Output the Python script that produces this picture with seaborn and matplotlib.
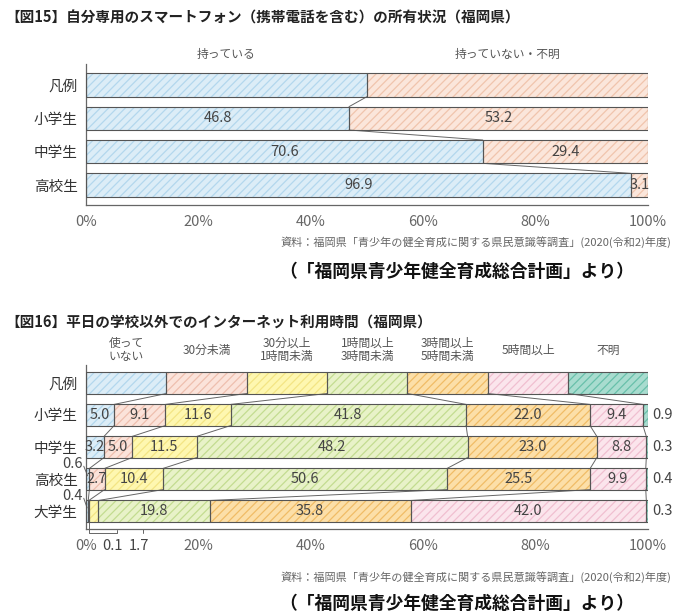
import numpy as np
import pandas as pd
import matplotlib.pyplot as plt
import seaborn as sns

sns.set_theme(style="white")
plt.rcParams['font.family'] = ['Noto Sans CJK JP', 'DejaVu Sans']
plt.rcParams['hatch.linewidth'] = 0.9
NUM_FONT = ['Liberation Sans Narrow', 'Noto Sans CJK JP', 'DejaVu Sans']

# ---------------------------------------------------------------
# Data : figure 15 (smartphone ownership)
rows15 = ["凡例", "小学生", "中学生", "高校生"]
cols15 = ["持っている", "持っていない・不明"]
own = [50.0, 46.8, 70.6, 96.9]
not_own = [50.0, 53.2, 29.4, 3.1]

# Data : figure 16 (internet use on weekdays)
rows16 = ["凡例", "小学生", "中学生", "高校生", "大学生"]
cols16 = ["使って\nいない", "30分未満", "30分以上\n1時間未満", "1時間以上\n3時間未満",
          "3時間以上\n5時間未満", "5時間以上", "不明"]
not_use = [14.3, 5.0, 3.2, 0.6, 0.4]
under30 = [14.3, 9.1, 5.0, 2.7, 0.1]
m30_h1 = [14.3, 11.6, 11.5, 10.4, 1.7]
h1_h3 = [14.3, 41.8, 48.2, 50.6, 19.8]
h3_h5 = [14.3, 22.0, 23.0, 25.5, 35.8]
over5 = [14.3, 9.4, 8.8, 9.9, 42.0]
unknown = [14.2, 0.9, 0.3, 0.4, 0.3]

fill15 = ["#dcedf7", "#fbe6db"]
hatch15 = ["#b3d7ed", "#f0c4ad"]
fill16 = ["#dcedf7", "#fbe3da", "#fef7b0", "#e8f2c8", "#fcdfa8", "#fbe5ec", "#a8dccf"]
hatch16 = ["#b3d7ed", "#eebfae", "#f3e584", "#c3dc90", "#f0bc66", "#f0bfd0", "#68c0aa"]

EDGE = "#555555"
TXT = "#444444"


def draw_stack(ax, rows, segs, fills, hatches, height):
    vals = np.array(segs).T
    norm = vals / vals.sum(axis=1, keepdims=True) * 100
    cum = norm.cumsum(axis=1)
    # seaborn bars from 0 to cumulative end, longest first so shorter ones cover
    for j in reversed(range(vals.shape[1])):
        df = pd.DataFrame({"row": rows, "end": cum[:, j]})
        sns.barplot(data=df, x="end", y="row", order=rows, orient="h",
                    color=fills[j], saturation=1, width=height, errorbar=None,
                    edgecolor=hatches[j], linewidth=0, hatch="////", ax=ax)
    # dark outlines for every segment
    pos = np.arange(len(rows))
    for j in range(vals.shape[1]):
        ax.barh(pos, norm[:, j], left=cum[:, j] - norm[:, j], height=height,
                fill=False, edgecolor=EDGE, linewidth=0.8, zorder=3)
    # connector lines between consecutive rows
    for i in range(len(rows) - 1):
        for j in range(vals.shape[1] - 1):
            ax.plot([cum[i, j], cum[i + 1, j]], [i + height / 2, i + 1 - height / 2],
                    color="#666666", lw=0.7, zorder=2)
    return vals, norm, cum


def style_axis(ax, ylim):
    ax.set_xlim(0, 100)
    ax.set_ylim(*ylim)
    ax.set_xlabel("")
    ax.set_ylabel("")
    ax.set_xticks([0, 20, 40, 60, 80, 100])
    ax.set_xticklabels([f"{t}%" for t in [0, 20, 40, 60, 80, 100]],
                       family=NUM_FONT, fontsize=10.5, color="#666666")
    ax.tick_params(axis="x", direction="in", length=4, width=0.8, color="#666666", pad=7)
    ax.tick_params(axis="y", length=0, pad=6, labelsize=10.5, labelcolor="#333333")
    for s in ["top", "right"]:
        ax.spines[s].set_visible(False)
    for s in ["left", "bottom"]:
        ax.spines[s].set_color("#666666")
        ax.spines[s].set_linewidth(0.9)


fig = plt.figure(figsize=(6.79, 6.15), dpi=100)
W, H = 679, 615

# ---------------------------------------------------------------
# Figure 15
ax1 = fig.add_axes([86 / W, 1 - 205 / H, 562 / W, 141 / H])
h1 = 0.7
v1, n1, c1 = draw_stack(ax1, rows15, [own, not_own], fill15, hatch15, h1)
style_axis(ax1, (3.6, -0.63))

for j, name in enumerate(cols15):
    ax1.text(c1[0, j] - n1[0, j] / 2, -0.92, name, ha="center", va="center",
             fontsize=8.5, color="#555555", clip_on=False)
for i in range(1, len(rows15)):
    for j in range(v1.shape[1]):
        ax1.text(c1[i, j] - n1[i, j] / 2, i, f"{v1[i, j]:.1f}", ha="center", va="center",
                 fontsize=10.5, color=TXT, family=NUM_FONT, zorder=4)

fig.text(5 / W, 1 - 18 / H, "【図15】自分専用のスマートフォン（携帯電話を含む）の所有状況（福岡県）",
         ha="left", va="center", fontsize=10.5, fontweight="bold", color="#222222")
fig.text(671 / W, 1 - 242 / H, "資料：福岡県「青少年の健全育成に関する県民意識等調査」(2020(令和2)年度)",
         ha="right", va="center", fontsize=8, color="#666666")
fig.text(457 / W, 1 - 272 / H, "（「福岡県青少年健全育成総合計画」より）",
         ha="center", va="center", fontsize=12.8, fontweight="bold", color="#111111")

# ---------------------------------------------------------------
# Figure 16
ax2 = fig.add_axes([86 / W, 1 - 529 / H, 562 / W, 164 / H])
h2 = 0.66
v2, n2, c2 = draw_stack(ax2, rows16, [not_use, under30, m30_h1, h1_h3, h3_h5, over5, unknown],
                        fill16, hatch16, h2)
style_axis(ax2, (4.56, -0.56))

for j, name in enumerate(cols16):
    ax2.text(c2[0, j] - n2[0, j] / 2, -1.03, name, ha="center", va="center",
             fontsize=8.5, color="#555555", linespacing=1.05, clip_on=False)

last = v2.shape[1] - 1
for i in range(1, len(rows16)):
    for j in range(v2.shape[1]):
        val = v2[i, j]
        mid = c2[i, j] - n2[i, j] / 2
        lab = f"{val:.1f}"
        if j == last:
            ax2.text(100.7, i, lab, ha="left", va="center", fontsize=10.5,
                     color=TXT, family=NUM_FONT, clip_on=False)
        elif val >= 2.0:
            ax2.text(mid, i, lab, ha="center", va="center", fontsize=10.5,
                     color=TXT, family=NUM_FONT, zorder=4)
        elif j == 0:
            ax2.text(-0.6, i - 0.47, lab, ha="right", va="center", fontsize=10.5,
                     color=TXT, family=NUM_FONT, clip_on=False)
            ax2.plot([-0.4, mid], [i - 0.4, i - 0.1], color="#666666", lw=0.7, clip_on=False)
        elif j == 1:
            ax2.text(4.8, 5.1, lab, ha="center", va="center", fontsize=10.5,
                     color=TXT, family=NUM_FONT, clip_on=False)
            ax2.plot([mid, mid, 5.5, 5.5], [i + h2 / 2, 4.68, 4.68, 4.58],
                     color="#666666", lw=0.7, clip_on=False)
        else:
            ax2.text(9.4, 5.1, lab, ha="center", va="center", fontsize=10.5,
                     color=TXT, family=NUM_FONT, clip_on=False)
            ax2.plot([10.2, 10.2], [4.56, 4.7], color="#666666", lw=0.7, clip_on=False)

fig.text(5 / W, 1 - 323 / H, "【図16】平日の学校以外でのインターネット利用時間（福岡県）",
         ha="left", va="center", fontsize=10.5, fontweight="bold", color="#222222")
fig.text(671 / W, 1 - 577 / H, "資料：福岡県「青少年の健全育成に関する県民意識等調査」(2020(令和2)年度)",
         ha="right", va="center", fontsize=8, color="#666666")
fig.text(457 / W, 1 - 604 / H, "（「福岡県青少年健全育成総合計画」より）",
         ha="center", va="center", fontsize=12.8, fontweight="bold", color="#111111")

fig.savefig("out.png", dpi=100, facecolor="white")
